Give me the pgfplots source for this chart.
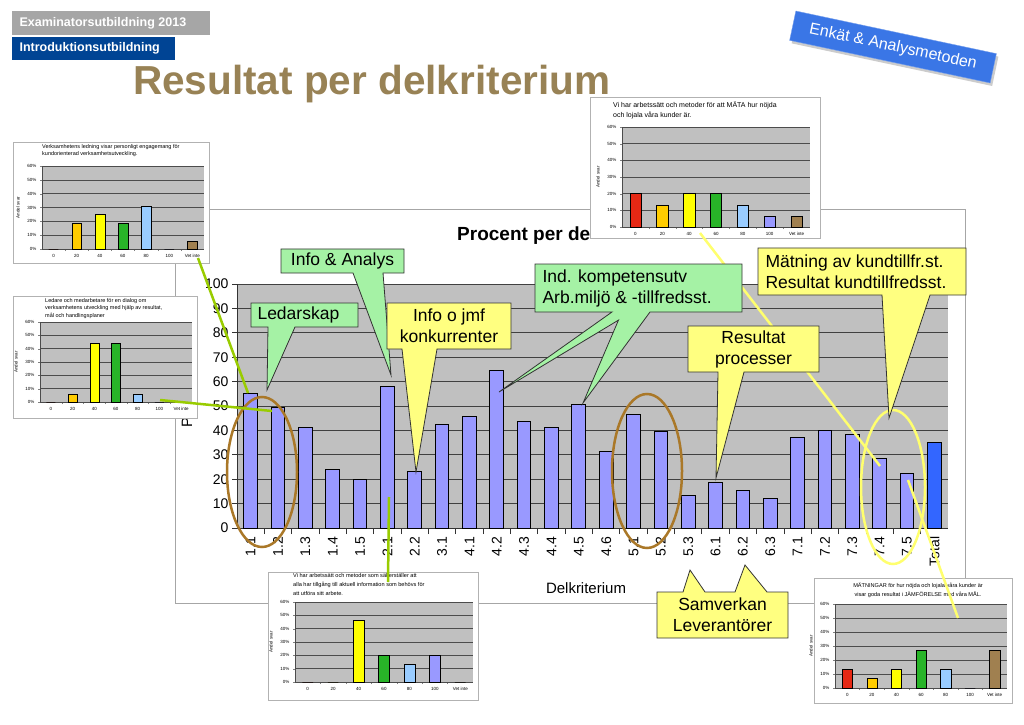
\documentclass[border=0pt]{standalone}
\usepackage{pgfplots}
\pgfplotsset{compat=1.18}
\usepackage{fontspec}
\setmainfont{Liberation Sans}

\definecolor{plotgray}{RGB}{192,192,192}
\definecolor{barblue}{RGB}{153,153,255}
\definecolor{totblue}{RGB}{51,102,255}
\definecolor{callgreen}{RGB}{165,242,165}
\definecolor{callyellow}{RGB}{255,255,128}
\definecolor{ellbrown}{RGB}{170,120,40}
\definecolor{linegreen}{RGB}{153,204,0}
\definecolor{lineyellow}{RGB}{255,255,110}
\definecolor{hdrgray}{RGB}{166,166,166}
\definecolor{hdrblue}{RGB}{0,68,148}
\definecolor{titlebrown}{RGB}{152,130,85}
\definecolor{enkblue}{RGB}{58,118,230}
\definecolor{c0}{RGB}{230,40,20}
\definecolor{c20}{RGB}{255,204,0}
\definecolor{c40}{RGB}{255,255,0}
\definecolor{c60}{RGB}{40,180,40}
\definecolor{c80}{RGB}{153,204,255}
\definecolor{c100}{RGB}{153,153,255}
\definecolor{cvet}{RGB}{160,128,80}

\pgfplotsset{
  /pgf/number format/assume math mode=true,
  mini/.style={
    scale only axis, ybar,
    xmin=-0.5, xmax=6.5, ymin=0, ymax=60,
    axis background/.style={fill=plotgray},
    ymajorgrids, grid style={black!70, line width=0.5pt},
    ytick={0,10,...,60}, yticklabel={\pgfmathprintnumber{\tick}\%},
    xtick={0,...,6}, xticklabels={0,20,40,60,80,100,Vet inte},
    tick label style={font=\fontsize{4.5}{5}\selectfont},
    major x tick style={draw=none}, minor x tick num=1,
    major tick length=2pt, minor tick length=2pt, tick align=outside,
    axis x line*=bottom, axis y line*=left,
    axis line style={black!70, line width=0.5pt},
    ylabel={Andel svar}, ylabel style={font=\fontsize{4.5}{5}\selectfont, yshift=1pt},
  }
}

% one bar per answer class: 0,20,40,60,80,100,Vet inte
\newcommand\minibars[7]{%
  \addplot[fill=c0, draw=black, line width=0.4pt, bar width=0.42, bar shift=0pt] coordinates {(0,#1)};
  \addplot[fill=c20, draw=black, line width=0.4pt, bar width=0.42, bar shift=0pt] coordinates {(1,#2)};
  \addplot[fill=c40, draw=black, line width=0.4pt, bar width=0.42, bar shift=0pt] coordinates {(2,#3)};
  \addplot[fill=c60, draw=black, line width=0.4pt, bar width=0.42, bar shift=0pt] coordinates {(3,#4)};
  \addplot[fill=c80, draw=black, line width=0.4pt, bar width=0.42, bar shift=0pt] coordinates {(4,#5)};
  \addplot[fill=c100, draw=black, line width=0.4pt, bar width=0.42, bar shift=0pt] coordinates {(5,#6)};
  \addplot[fill=cvet, draw=black, line width=0.4pt, bar width=0.42, bar shift=0pt] coordinates {(6,#7)};
}

\newcommand\callfont{\fontsize{17.5}{21}\selectfont}
\newcommand\minifont{\fontsize{5.5}{7.5}\selectfont}

\begin{document}
\begin{tikzpicture}[x=1pt,y=1pt]
\fill[white] (0,0) rectangle (1024,724);
\path[use as bounding box] (0,0) rectangle (1024,724);

% header
\fill[hdrgray] (12,713) rectangle (210,689);
\node[anchor=west, text=white, font=\bfseries\fontsize{12.5}{14}\selectfont] at (16,701) {Examinatorsutbildning 2013};
\fill[hdrblue] (12,687) rectangle (175,664);
\node[anchor=west, text=white, font=\bfseries\fontsize{12.5}{14}\selectfont] at (16,675.5) {Introduktionsutbildning};
\node[anchor=base west, inner sep=0, text=titlebrown, font=\bfseries\fontsize{40.5}{44}\selectfont] at (133,629) {Resultat per delkriterium};

\node[rotate=-12, fill=gray!40, minimum width=205pt, minimum height=30pt] at (895,674) {};
\node[rotate=-12, fill=enkblue, draw=enkblue!70!white, text=white, minimum width=205pt, minimum height=30pt, font=\fontsize{16}{18}\selectfont] at (893,677) {Enkät \& Analysmetoden};

% main chart
\filldraw[fill=white, draw=gray!70, line width=1pt] (175,514) rectangle (965,121);
\begin{scope}
  \clip (175,460) rectangle (590,514);
  \node[anchor=base west, inner sep=0, font=\bfseries\fontsize{19}{22}\selectfont] at (457,483) {Procent per delkriterium};
\end{scope}

\begin{axis}[
  at={(237pt,196pt)}, anchor=south west, scale only axis,
  width=711pt, height=244pt,
  xmin=-0.5, xmax=25.5, ymin=0, ymax=100,
  axis background/.style={fill=plotgray},
  ybar,
  ytick={0,10,...,100}, ymajorgrids,
  grid style={black!75, line width=0.8pt},
  xtick={0,...,25},
  xticklabels={1.1,1.2,1.3,1.4,1.5,2.1,2.2,3.1,4.1,4.2,4.3,4.4,4.5,4.6,5.1,5.2,5.3,6.1,6.2,6.3,7.1,7.2,7.3,7.4,7.5,Total},
  x tick label style={rotate=90, anchor=east, font=\fontsize{14}{14}\selectfont},
  y tick label style={font=\fontsize{14}{14}\selectfont},
  major x tick style={draw=none}, minor x tick num=1,
  minor x tick style={black!80, line width=0.8pt},
  major y tick style={black!80, line width=0.8pt},
  major tick length=5pt, minor tick length=6pt, tick align=outside,
  axis x line*=bottom, axis y line*=left,
  axis line style={black!80, line width=1pt},
]
\addplot[fill=barblue, draw=black, line width=1pt, bar width=0.5, bar shift=0pt] coordinates {
  (0,55) (1,49.5) (2,41) (3,24) (4,20) (5,58) (6,23) (7,42.5) (8,45.5) (9,64.5)
  (10,43.5) (11,41) (12,50.5) (13,31.5) (14,46.5) (15,39.5) (16,13.5) (17,18.5)
  (18,15.5) (19,12) (20,37) (21,40) (22,38.5) (23,28.5) (24,22.5)
};
\addplot[fill=totblue, draw=black, line width=1pt, bar width=0.5, bar shift=0pt] coordinates {(25,35)};
\end{axis}

\node[rotate=90, font=\fontsize{15}{18}\selectfont] at (187,322) {Procent};
\node[font=\fontsize{15}{18}\selectfont] at (586,136) {Delkriterium};

% ellipses
\draw[ellbrown, line width=2.5pt] (262,252) ellipse [x radius=35, y radius=75];
\draw[ellbrown, line width=2.5pt] (647,253) ellipse [x radius=35, y radius=77];
\draw[lineyellow, line width=2.5pt] (893,237) ellipse [x radius=32, y radius=77];

% inset 1
\filldraw[fill=white, draw=gray!60] (13,582) rectangle (209,461);
\node[anchor=north west, align=left, inner sep=0, font=\minifont] at (42,580) {Verksamhetens ledning visar personligt engagemang för\\kundorienterad verksamhetsutveckling.};
\begin{axis}[mini, at={(42pt,475pt)}, anchor=south west, width=162pt, height=83pt]
\minibars{0}{19}{25}{19}{31}{0}{6}
\end{axis}

% inset 2
\filldraw[fill=white, draw=gray!60] (13,428) rectangle (197,306);
\node[anchor=north west, align=left, inner sep=0, font=\minifont] at (45,426) {Ledare och medarbetare för en dialog om\\verksamhetens utveckling med hjälp av resultat,\\mål och handlingsplaner};
\begin{axis}[mini, at={(40pt,322pt)}, anchor=south west, width=152pt, height=80pt]
\minibars{0}{6}{44}{44}{6}{0}{0}
\end{axis}

% inset 3
\filldraw[fill=white, draw=gray!60] (590,627) rectangle (820,486);
\node[anchor=north west, align=left, inner sep=0, font=\fontsize{7}{10.5}\selectfont] at (613,623) {Vi har arbetssätt och metoder för att MÄTA hur nöjda\\och lojala våra kunder är.};
\begin{axis}[mini, at={(622pt,497pt)}, anchor=south west, width=188pt, height=100pt]
\minibars{20}{13.3}{20}{20}{13.3}{6.7}{6.7}
\end{axis}

% inset 4
\filldraw[fill=white, draw=gray!60] (268,152) rectangle (478,24);
\node[anchor=north west, align=left, inner sep=0, font=\fontsize{5.6}{9}\selectfont] at (293,151) {Vi har arbetssätt och metoder som säkerställer att\\alla har tillgång till aktuell information som behövs för\\att utföra sitt arbete.};
\begin{axis}[mini, at={(295pt,42pt)}, anchor=south west, width=178pt, height=80pt]
\minibars{0}{0}{46.7}{20}{13.3}{20}{0}
\end{axis}

% inset 5
\filldraw[fill=white, draw=gray!60] (814,146) rectangle (1012,21);
\node[anchor=north, align=center, inner sep=0, font=\fontsize{5.6}{9}\selectfont] at (918,141) {MÄTNINGAR för hur nöjda och lojala våra kunder är\\visar goda resultat i JÄMFÖRELSE med våra MÅL.};
\begin{axis}[mini, at={(835pt,36pt)}, anchor=south west, width=172pt, height=84pt]
\minibars{13.3}{6.7}{13.3}{26.7}{13.3}{0}{26.7}
\end{axis}

% connector lines
\draw[linegreen, line width=2.5pt] (198,466) -- (248,331);
\draw[linegreen, line width=2.5pt] (160,324) -- (272,313);
\draw[linegreen, line width=2.5pt] (389,227) -- (388,142);
\draw[lineyellow, line width=2.5pt] (700,491) -- (880,258);
\draw[lineyellow, line width=2.5pt] (908,244) -- (958,106);

% callouts
\filldraw[fill=callgreen, draw=black!80, line width=0.8pt] (281,475) -- (404,475) -- (404,451) -- (383,451) -- (391,349) -- (353,451) -- (281,451) -- cycle;
\node[font=\callfont] at (342.5,463) {Info \& Analys};

\filldraw[fill=callgreen, draw=black!80, line width=0.8pt] (251,421) -- (358,421) -- (358,397) -- (295,397) -- (267,334) -- (268,397) -- (251,397) -- cycle;
\node[anchor=west, font=\callfont] at (254,409) {Ledarskap};

\filldraw[fill=callyellow, draw=black!80, line width=0.8pt] (387,421) -- (511,421) -- (511,375) -- (437,375) -- (416,252) -- (402,375) -- (387,375) -- cycle;
\node[align=center, font=\callfont] at (449,398) {Info o jmf\\konkurrenter};

\filldraw[fill=callgreen, draw=black!80, line width=0.8pt] (535,460) -- (742,460) -- (742,412) -- (650,412) -- (583,321) -- (618.5,403.9) -- (499,332) -- (612,412) -- (535,412) -- cycle;
\node[anchor=west, align=left, font=\callfont] at (539,436) {Ind. kompetensutv\\Arb.miljö \& -tillfredsst.};

\filldraw[fill=callyellow, draw=black!80, line width=0.8pt] (758,476) -- (966,476) -- (966,429) -- (930,429) -- (889,306) -- (882,429) -- (758,429) -- cycle;
\node[anchor=west, align=left, font=\callfont] at (762,452.5) {Mätning av kundtillfr.st.\\Resultat kundtillfredsst.};

\filldraw[fill=callyellow, draw=black!80, line width=0.8pt] (688,398) -- (819,398) -- (819,352) -- (744,352) -- (716,246) -- (718,352) -- (688,352) -- cycle;
\node[align=center, font=\callfont] at (753.5,375) {Resultat\\processer};

\filldraw[fill=callyellow, draw=black!80, line width=0.8pt] (657,132) -- (683,132) -- (690,154) -- (705,132) -- (735,132) -- (745,159) -- (767,132) -- (788,132) -- (788,86) -- (657,86) -- cycle;
\node[align=center, font=\callfont] at (722.5,109) {Samverkan\\Leverantörer};
\end{tikzpicture}
\end{document}
